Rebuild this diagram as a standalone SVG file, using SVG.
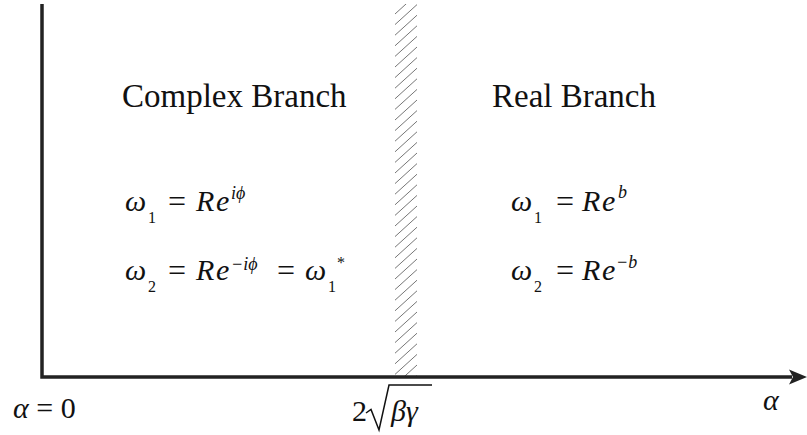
<svg xmlns="http://www.w3.org/2000/svg" width="807" height="435" viewBox="0 0 807 435">
<style>
text{font-family:"Liberation Serif","Times New Roman",serif;fill:#111}
.lbl{font-size:33px}
.m{font-size:30px}
.eq{font-size:32px}
.i{font-style:italic}
.sub{font-size:16px}
.sup{font-size:18px;font-style:italic}
.axis{stroke:#222;stroke-width:3.5;fill:none}
.hatch{stroke:#666;stroke-width:0.9}
</style>
<defs>
<clipPath id="band"><rect x="395" y="4" width="22" height="372"/></clipPath>
</defs>
<g id="hatch-band" clip-path="url(#band)">
<path class="hatch" d="M395,14L417,-6M395,24.6L417,4.6M395,35.2L417,15.2M395,45.8L417,25.8M395,56.4L417,36.4M395,67L417,47M395,77.6L417,57.6M395,88.2L417,68.2M395,98.8L417,78.8M395,109.4L417,89.4M395,120L417,100M395,130.6L417,110.6M395,141.2L417,121.2M395,151.8L417,131.8M395,162.4L417,142.4M395,173L417,153M395,183.6L417,163.6M395,194.2L417,174.2M395,204.8L417,184.8M395,215.4L417,195.4M395,226L417,206M395,236.6L417,216.6M395,247.2L417,227.2M395,257.8L417,237.8M395,268.4L417,248.4M395,279L417,259M395,289.6L417,269.6M395,300.2L417,280.2M395,310.8L417,290.8M395,321.4L417,301.4M395,332L417,312M395,342.6L417,322.6M395,353.2L417,333.2M395,363.8L417,343.8M395,374.4L417,354.4M395,385L417,365M395,395.6L417,375.6"/>
</g>
<g id="connectors">
<path class="axis" d="M42,4V377H792"/>
<path d="M807,377L789,369.5L793,377L789,384.5Z" fill="#222"/>
</g>
<g id="complex-branch">
<text class="lbl" x="122" y="107">Complex Branch</text>
<text class="m i" x="125" y="211">ω</text>
<text class="sub" x="148" y="223">1</text>
<text class="eq" x="168" y="212">=</text>
<text class="m i" x="196" y="211">R</text>
<text class="m i" x="216" y="211">e</text>
<text class="sup" x="231" y="199">iϕ</text>
<text class="m i" x="125" y="280">ω</text>
<text class="sub" x="148" y="292">2</text>
<text class="eq" x="168" y="281">=</text>
<text class="m i" x="196" y="280">R</text>
<text class="m i" x="216" y="280">e</text>
<text class="sup" x="231" y="270">−iϕ</text>
<text class="eq" x="277" y="281">=</text>
<text class="m i" x="305" y="280">ω</text>
<text class="sub" x="328" y="292">1</text>
<text class="sub" x="337" y="268">*</text>
</g>
<g id="real-branch">
<text class="lbl" x="492" y="107">Real Branch</text>
<text class="m i" x="511" y="211">ω</text>
<text class="sub" x="534" y="223">1</text>
<text class="eq" x="556" y="212">=</text>
<text class="m i" x="582" y="211">R</text>
<text class="m i" x="602" y="211">e</text>
<text class="sup" x="618" y="198">b</text>
<text class="m i" x="511" y="280">ω</text>
<text class="sub" x="534" y="292">2</text>
<text class="eq" x="556" y="281">=</text>
<text class="m i" x="582" y="280">R</text>
<text class="m i" x="602" y="280">e</text>
<text class="sup" x="616" y="268">−b</text>
</g>
<g id="label-origin">
<text class="m" x="13" y="418"><tspan class="i">α</tspan> = 0</text>
</g>
<g id="label-threshold">
<text class="m" x="352" y="421">2</text>
<path d="M366,413L371,409.5L379,430L389,385H432" fill="none" stroke="#111" stroke-width="1.5"/>
<text class="m i" x="391" y="421">βγ</text>
</g>
<g id="label-alpha">
<text class="m i" x="763" y="410">α</text>
</g>
</svg>
